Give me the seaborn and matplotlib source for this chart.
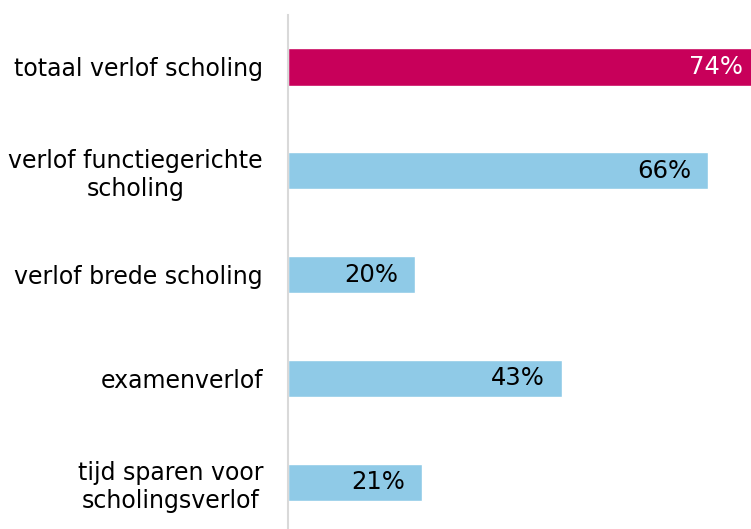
import numpy as np
import pandas as pd
import seaborn as sns
import matplotlib.pyplot as plt

categories = ['totaal verlof scholing', 'verlof functiegerichte\nscholing',
              'verlof brede scholing', 'examenverlof',
              'tijd sparen voor\nscholingsverlof']
values = [74, 66, 20, 43, 21]
bar_colors = ['#C8005A', '#8FCAE7', '#8FCAE7', '#8FCAE7', '#8FCAE7']
text_colors = ['white', 'black', 'black', 'black', 'black']

df = pd.DataFrame({'cat': categories, 'val': values})

sns.set_style('white')
plt.rcParams['font.family'] = ['DejaVu Sans']

fig = plt.figure(figsize=(7.51, 5.29), dpi=100)
ax = fig.add_axes([0.3835, 0.0, 0.6165, 0.9716])

sns.barplot(data=df, x='val', y='cat', hue='cat', palette=bar_colors,
            orient='h', width=0.36, legend=False, ax=ax, saturation=1)

ax.set_xlim(0, 72.7)
ax.set_ylim(4.45, -0.5)
ax.set_xlabel('')
ax.set_ylabel('')
ax.set_xticks([])
for s in ['top', 'right', 'bottom']:
    ax.spines[s].set_visible(False)
ax.spines['left'].set_color('#D9D9D9')
ax.spines['left'].set_linewidth(1.5)

ax.tick_params(axis='y', length=0, pad=18, labelsize=17, labelcolor='black')
for lbl in ax.get_yticklabels():
    lbl.set_multialignment('center')

for i, (v, c) in enumerate(zip(values, text_colors)):
    ax.annotate(f'{v}%', xy=(v, i), xytext=(-12, 0), textcoords='offset points',
                ha='right', va='center', fontsize=17.5, color=c,
                annotation_clip=False)

fig.savefig('out.png', dpi=100)
